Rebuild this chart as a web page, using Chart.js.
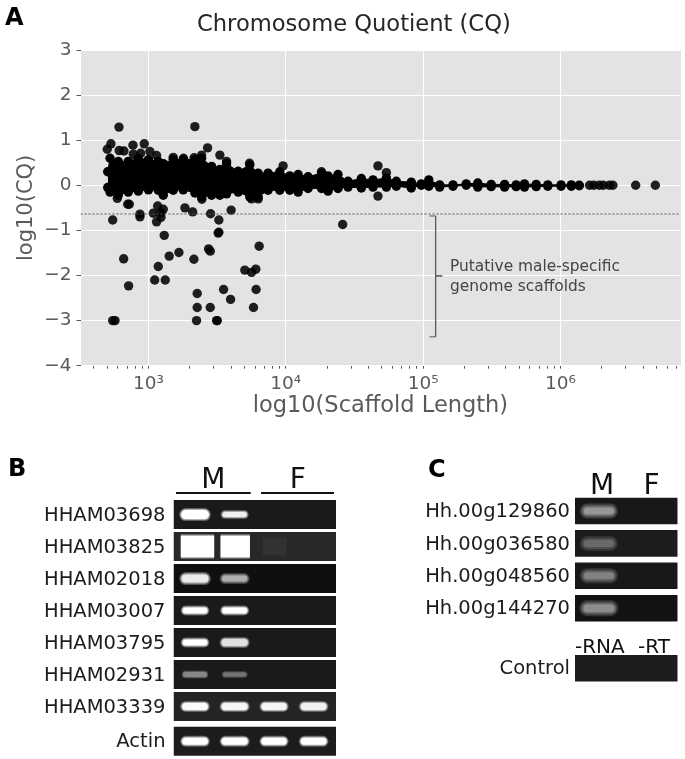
<!DOCTYPE html>
<html>
<head>
<meta charset="utf-8">
<script src="https://cdn.jsdelivr.net/npm/chart.js@4"></script>
<style>
  html, body { margin: 0; padding: 0; background: #fff; overflow: hidden; }
  #page { position: relative; width: 685px; height: 759px; font-family: "DejaVu Sans", sans-serif; filter: blur(0.3px); }
  canvas { position: absolute; }
  .note { position: absolute; white-space: nowrap; }
  .panel { font-weight: bold; font-size: 24px; line-height: 24px; color: #000; }
  #plotGround { position: absolute; left: 80.5px; top: 50px; width: 600.5px; height: 315.7px; background: #e3e3e3; }
</style>
</head>
<body>
<div id="page">
  <div id="plotGround"></div>
  <canvas id="cqChart" width="685" height="430" style="left:0;top:0"></canvas>
  <canvas id="gelB" width="345" height="309" style="left:0;top:450px"></canvas>
  <canvas id="gelC" width="270" height="240" style="left:415px;top:450px"></canvas>
  <div class="note panel" style="left:5px;top:5px">A</div>
  <div class="note panel" style="left:8px;top:456px">B</div>
  <div class="note panel" style="left:428px;top:457px">C</div>
  <div class="note" style="left:197px;top:10px;font-size:22.6px;line-height:27px;color:#262626">Chromosome Quotient (CQ)</div>
  <div class="note" style="left:450px;top:256px;font-size:15.4px;line-height:20px;color:#444">Putative male-specific<br>genome scaffolds</div>
  <div class="note" style="left:575px;top:635px;font-size:20px;line-height:22px;color:#111">-RNA</div>
  <div class="note" style="left:638px;top:635px;font-size:20px;line-height:22px;color:#111">-RT</div>
</div>
<script>
// panel A: scattered scaffolds
const outlierLength = [610, 2178, 501, 533, 612, 663, 771, 932, 1025, 2695, 3311, 3705, 5445, 9556, 18200, 2438, 1515, 1146,
  877, 776, 1800, 2150, 46900, 54000, 46900, 593, 2450, 5630, 6300,
  706, 725, 1167, 1282, 1084, 1233, 1233, 1146, 1843, 2096, 2834, 3255, 4000, 549, 867, 867, 25950,
  1303, 3218, 3255, 6397, 1666, 1416, 2741, 2818, 660, 2143, 1179, 5030, 5630, 6050, 1110, 1325, 717,
  2264, 3524, 6080, 3963, 2264, 2818, 5821, 549, 571, 2240, 3133, 3170];
const outlierCQ = [1.29, 1.30, 0.80, 0.92, 0.77, 0.76, 0.89, 0.92, 0.75, 0.83, 0.67, 0.53, 0.49, 0.43, 0.30, 0.67, 0.62, 0.66,
  0.71, 0.69, 0.60, 0.61, 0.43, 0.28, -0.24, -0.29, -0.31, -0.30, -0.30,
  -0.42, -0.42, -0.46, -0.53, -0.62, -0.61, -0.71, -0.81, -0.50, -0.59, -0.63, -0.77, -0.55, -0.77, -0.64, -0.70, -0.87,
  -1.11, -1.06, -1.04, -1.35, -1.49, -1.57, -1.41, -1.46, -1.63, -1.64, -1.80, -1.88, -1.93, -1.86, -2.10, -2.10, -2.23,
  -2.40, -2.31, -2.31, -2.53, -2.71, -2.71, -2.71, -3, -3, -3, -3, -3];

// long scaffolds at the right hand end
const tailLength = [1630000, 1750000, 1920000, 2050000, 2270000, 2410000, 3530000, 4910000];
const tailCQ = [0, 0, 0, 0, 0, 0, 0, 0];

// the solid mass of scaffolds, as its top and bottom edge
const massLength = [505, 525, 603, 713, 843, 1000, 1178, 1282, 1515, 1791, 2178, 2438, 2884, 3311, 3705, 4500, 5470, 6290, 7430, 9040,
  10700, 12300, 14530, 18200, 20300, 24000, 28400, 35500, 43150, 54000, 63800, 82000, 97000, 110000, 132000, 165000, 206000,
  250000, 313000, 392000, 476000, 547000, 666000, 809000, 1010000, 1200000, 1370000];
const massTop = [0.30, 0.60, 0.53, 0.53, 0.60, 0.57, 0.53, 0.48, 0.57, 0.57, 0.57, 0.60, 0.42, 0.35, 0.48, 0.31, 0.45, 0.27, 0.27, 0.30,
  0.21, 0.24, 0.19, 0.27, 0.21, 0.24, 0.09, 0.15, 0.12, 0.16, 0.09, 0.07, 0.03, 0.12, 0.01, 0.01, 0.03,
  0.05, 0.02, 0.02, 0.01, 0.03, 0.02, 0.01, 0.01, 0.01, 0.00];
const massBottom = [-0.05, -0.15, -0.22, -0.15, -0.13, -0.10, -0.11, -0.22, -0.11, -0.10, -0.17, -0.26, -0.22, -0.22, -0.19, -0.15, -0.26, -0.26, -0.11, -0.11,
  -0.11, -0.15, -0.07, -0.07, -0.13, -0.07, -0.04, -0.06, -0.04, -0.04, -0.02, -0.06, 0.00, -0.02, -0.04, -0.02, 0.00,
  -0.04, -0.03, -0.04, -0.03, -0.04, -0.03, -0.02, -0.02, -0.02, -0.01];

const cqTicks = [3, 2, 1, 0, -1, -2, -3, -4];
const cqThreshold = -0.636;
const bracketLength = [111500, 123300, 123300, 138000, 123300, 123300, 111500];
const bracketCQ = [-0.68, -0.68, -2.01, -2.01, -2.01, -3.36, -3.36];

// panel B
const bGenes = ['HHAM03698', 'HHAM03825', 'HHAM02018', 'HHAM03007', 'HHAM03795', 'HHAM02931', 'HHAM03339', 'Actin'];
const bRows = [0, 1, 2, 3, 4, 5, 6, 7.09];
const bGroups = ['M', 'F'];
const bIntensity = [
  [255, 240, 0, 0],
  [255, 255, 50, 40],
  [235, 175, 0, 0],
  [255, 255, 0, 0],
  [255, 225, 0, 0],
  [135, 115, 0, 0],
  [250, 245, 245, 240],
  [255, 255, 255, 255],
];
const bGround = [26, 40, 15, 26, 26, 26, 36, 28];

// panel C
const cGenes = ['Hh.00g129860', 'Hh.00g036580', 'Hh.00g048560', 'Hh.00g144270', 'Control'];
const cRows = [0, 1, 2, 3, 4.855];
const cGroups = ['M', 'F'];
const cIntensity = [
  [150, 0],
  [105, 0],
  [130, 0],
  [140, 0],
  [0, 0],
];
const cGround = [24, 28, 24, 18, 28];

// styles of the gels, in pixels
const bThickness = [
  [9, 5, 0, 0],
  [21, 21, 16, 16],
  [8, 6, 0, 0],
  [6, 6, 0, 0],
  [6, 7, 0, 0],
  [5, 4, 0, 0],
  [7, 7, 7, 7],
  [7, 7, 7, 7],
];
const bHalo = [4, 4, 5, 4, 4, 3, 4, 4];
const bLaneStart = [0.3, 1.27, 2.25, 3.22];
const bLaneEnd = [0.76, 1.74, 2.7, 3.68];
const bWideStart = [0.18, 1.16, 2.2, 3.17];
const bWideEnd = [1.0, 1.88, 2.78, 3.75];
const cThickness = [[7, 0], [7, 0], [7, 0], [8, 0], [0, 0]];
const cHalo = [8, 8, 8, 8, 0];
const cLaneStart = [0.48];
const cLaneEnd = [1.38];

const zip = (xs, ys) => xs.map((x, i) => ({ x, y: ys[i] }));
const isDecade = (v) => Number.isInteger(Math.round(Math.log10(v) * 1e6) / 1e6);
const SUPERS = { 3: '³', 4: '⁴', 5: '⁵', 6: '⁶' };
const grey = (v) => `rgb(${v},${v},${v})`;

new Chart(document.getElementById('cqChart'), {
  type: 'scatter',
  data: {
    datasets: [
      { type: 'line', data: zip(massLength, massTop), fill: '+1', backgroundColor: '#000', borderColor: '#000', borderWidth: 1, pointBackgroundColor: '#000', pointBorderWidth: 0, pointRadius: 4.7 },
      { type: 'line', data: zip(massLength, massBottom), fill: false, backgroundColor: '#000', borderColor: '#000', borderWidth: 1, pointBackgroundColor: '#000', pointBorderWidth: 0, pointRadius: 4.7 },
      { data: zip(outlierLength, outlierCQ), backgroundColor: 'rgba(0,0,0,0.87)', borderWidth: 0, pointRadius: 4.7, order: -1 },
      { data: zip(tailLength, tailCQ), backgroundColor: 'rgba(0,0,0,0.87)', borderWidth: 0, pointRadius: 4.7, order: -1 },
      { data: [{ x: 320, y: cqThreshold }, { x: 7460000, y: cqThreshold }], showLine: true, borderColor: '#555', borderWidth: 1, borderDash: [2, 2], pointRadius: 0, order: -2 },
      { data: zip(bracketLength, bracketCQ), showLine: true, borderColor: '#555', borderWidth: 1, pointRadius: 0, order: -2 },
    ],
  },
  options: {
    responsive: false,
    animation: false,
    layout: { padding: { top: 50, right: 4 } },
    plugins: { legend: { display: false }, tooltip: { enabled: false } },
    scales: {
      x: {
        type: 'logarithmic',
        min: 320,
        max: 7460000,
        afterBuildTicks(scale) {
          scale.ticks = scale.ticks.filter((t) => Number.isInteger(Math.round(t.value / 10 ** Math.floor(Math.log10(t.value)) * 1e6) / 1e6));
        },
        afterFit(scale) { scale.height = 64.3; },
        border: { display: false },
        grid: {
          color: (c) => (c.tick && isDecade(c.tick.value) ? '#fff' : 'rgba(0,0,0,0)'),
          tickColor: '#555',
          tickLength: 3,
        },
        ticks: {
          autoSkip: false,
          maxRotation: 0,
          color: '#5a5a5a',
          padding: 4,
          font: { family: 'DejaVu Sans', size: 18.5 },
          callback: (v) => (isDecade(v) ? '10' + SUPERS[Math.round(Math.log10(v))] : ''),
        },
        title: { display: true, text: 'log10(Scaffold Length)', color: '#5a5a5a', font: { family: 'DejaVu Sans', size: 22.5 }, padding: { top: 2, bottom: 10 } },
      },
      y: {
        min: -4,
        max: 3,
        afterBuildTicks(scale) { scale.ticks = cqTicks.map((value) => ({ value })); },
        afterFit(scale) { scale.width = 80.5; },
        border: { display: false },
        grid: { color: '#fff', tickColor: '#555', tickLength: 4 },
        ticks: {
          color: '#5a5a5a',
          padding: 5,
          font: { family: 'DejaVu Sans', size: 18.5 },
          callback: (v) => String(v).replace('-', '−'),
        },
        title: { display: true, text: 'log10(CQ)', color: '#5a5a5a', font: { family: 'DejaVu Sans', size: 21 }, padding: { top: 14, bottom: 0 } },
      },
    },
  },
});

function gelChart(canvasId, g) {
  const datasets = [];
  g.underlines.forEach((u) => {
    datasets.push({ data: [{ x: u[0], y: g.underlineY }, { x: u[1], y: g.underlineY }], borderColor: '#111', borderWidth: 2, order: 0 });
  });
  g.rows.forEach((row, r) => {
    const ground = g.ground[r];
    datasets.push({
      data: [{ x: 0, y: row }, { x: 4, y: row }],
      borderColor: grey(ground),
      borderWidth: g.rowHeight,
      order: 4,
    });
    g.intensity[r].forEach((level, lane) => {
      if (!level) return;
      const thick = g.thickness[r][lane];
      const wide = thick > 12;
      const borderCapStyle = wide ? 'butt' : 'round';
      const data = [
        { x: wide ? g.wideStart[lane] : g.laneStart[lane], y: row },
        { x: wide ? g.wideEnd[lane] : g.laneEnd[lane], y: row },
      ];
      // two dim strokes under the core give the band its soft edge
      datasets.push({ data, borderColor: grey(Math.round(ground + (level - ground) * 0.3)), borderWidth: thick + g.halo[r], borderCapStyle, order: 3 });
      datasets.push({ data, borderColor: grey(Math.round(ground + (level - ground) * 0.65)), borderWidth: thick + g.halo[r] / 2, borderCapStyle, order: 2 });
      datasets.push({ data, borderColor: grey(level), borderWidth: thick, borderCapStyle, order: 1 });
    });
  });
  return new Chart(document.getElementById(canvasId), {
    type: 'scatter',
    data: { datasets: datasets.map((d) => ({ showLine: true, pointRadius: 0, ...d })) },
    options: {
      responsive: false,
      animation: false,
      layout: { autoPadding: false, padding: { right: g.padRight, bottom: g.padBottom } },
      plugins: { legend: { display: false }, tooltip: { enabled: false } },
      scales: {
        x: {
          position: 'top',
          min: 0,
          max: 4,
          afterBuildTicks(scale) { scale.ticks = g.groupAt.map((value) => ({ value })); },
          afterFit(scale) { scale.height = g.areaTop; scale.paddingLeft = 0; scale.paddingRight = 0; },
          border: { display: false },
          grid: { display: false, drawTicks: false },
          ticks: {
            autoSkip: false,
            maxRotation: 0,
            color: '#111',
            padding: g.headPad,
            font: { family: 'DejaVu Sans', size: 28 },
            callback: (v, i) => g.groups[i],
          },
        },
        y: {
          reverse: true,
          min: g.yMin,
          max: g.yMax,
          afterBuildTicks(scale) { scale.ticks = g.rows.map((value) => ({ value: value + 0.035 })); },
          afterFit(scale) { scale.width = g.areaLeft; scale.paddingTop = 0; scale.paddingBottom = 0; },
          border: { display: false },
          grid: { display: false, drawTicks: false },
          ticks: {
            autoSkip: false,
            color: '#1c1c1c',
            padding: g.labelPad,
            font: { family: 'DejaVu Sans', size: 19.5 },
            callback: (v, i) => g.labels[i],
          },
        },
      },
    },
  });
}

gelChart('gelB', {
  labels: bGenes, rows: bRows, groups: bGroups, intensity: bIntensity, ground: bGround,
  thickness: bThickness, halo: bHalo, laneStart: bLaneStart, laneEnd: bLaneEnd, wideStart: bWideStart, wideEnd: bWideEnd,
  groupAt: [0.98, 3.06], underlines: [[0.06, 1.9], [2.155, 3.95]], underlineY: -0.68,
  rowHeight: 29, areaLeft: 173.5, areaTop: 40, padRight: 9, padBottom: 3, yMin: -0.77, yMax: 7.55, headPad: -8, labelPad: 8,
});

gelChart('gelC', {
  labels: cGenes, rows: cRows, groups: cGroups, intensity: cIntensity, ground: cGround,
  thickness: cThickness, halo: cHalo, laneStart: cLaneStart, laneEnd: cLaneEnd, wideStart: cLaneStart, wideEnd: cLaneEnd,
  groupAt: [1.05, 2.98], underlines: [], underlineY: 0,
  rowHeight: 26.6, areaLeft: 160, areaTop: 47, padRight: 7.3, padBottom: 8, yMin: -0.432, yMax: 5.278, headPad: -7, labelPad: 5,
});
</script>
</body>
</html>
